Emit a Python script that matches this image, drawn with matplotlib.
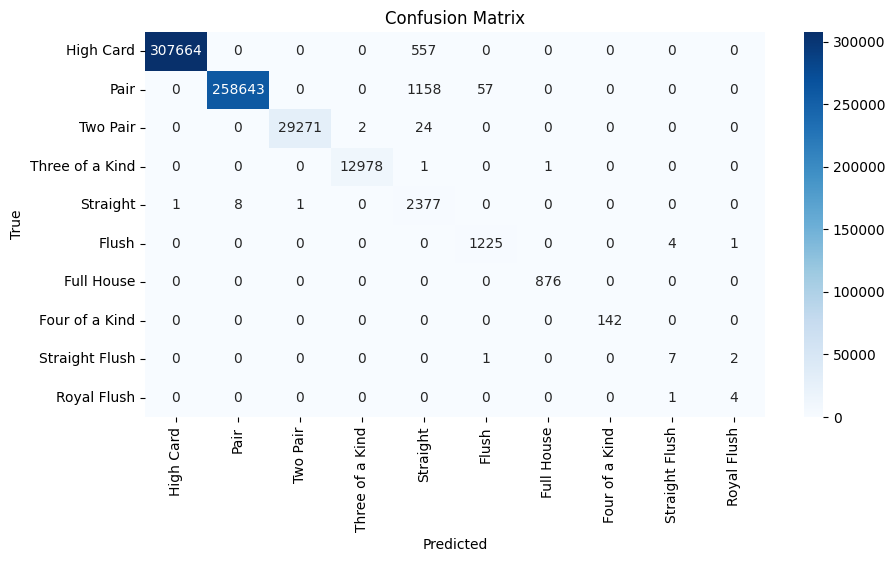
import numpy as np
import matplotlib
matplotlib.use('Agg')
import matplotlib.pyplot as plt
import seaborn as sns

labels = ['High Card', 'Pair', 'Two Pair', 'Three of a Kind', 'Straight',
          'Flush', 'Full House', 'Four of a Kind', 'Straight Flush',
          'Royal Flush']

row_high_card = [307664, 0, 0, 0, 557, 0, 0, 0, 0, 0]
row_pair = [0, 258643, 0, 0, 1158, 57, 0, 0, 0, 0]
row_two_pair = [0, 0, 29271, 2, 24, 0, 0, 0, 0, 0]
row_three = [0, 0, 0, 12978, 1, 0, 1, 0, 0, 0]
row_straight = [1, 8, 1, 0, 2377, 0, 0, 0, 0, 0]
row_flush = [0, 0, 0, 0, 0, 1225, 0, 0, 4, 1]
row_full_house = [0, 0, 0, 0, 0, 0, 876, 0, 0, 0]
row_four = [0, 0, 0, 0, 0, 0, 0, 142, 0, 0]
row_straight_flush = [0, 0, 0, 0, 0, 1, 0, 0, 7, 2]
row_royal_flush = [0, 0, 0, 0, 0, 0, 0, 0, 1, 4]

cm = np.array([row_high_card, row_pair, row_two_pair, row_three,
               row_straight, row_flush, row_full_house, row_four,
               row_straight_flush, row_royal_flush])

fig = plt.figure(figsize=(8.95, 5.62), dpi=100)
ax = fig.add_axes([0.162, 0.258, 0.6927, 0.685])
cax = fig.add_axes([0.8983, 0.258, 0.0212, 0.685])

sns.heatmap(cm, annot=True, fmt='d', cmap='Blues',
            xticklabels=labels, yticklabels=labels, ax=ax, cbar_ax=cax)
ax.set_xlabel('Predicted')
ax.set_ylabel('True')
ax.set_title('Confusion Matrix')

plt.savefig('out.png', dpi=100)
